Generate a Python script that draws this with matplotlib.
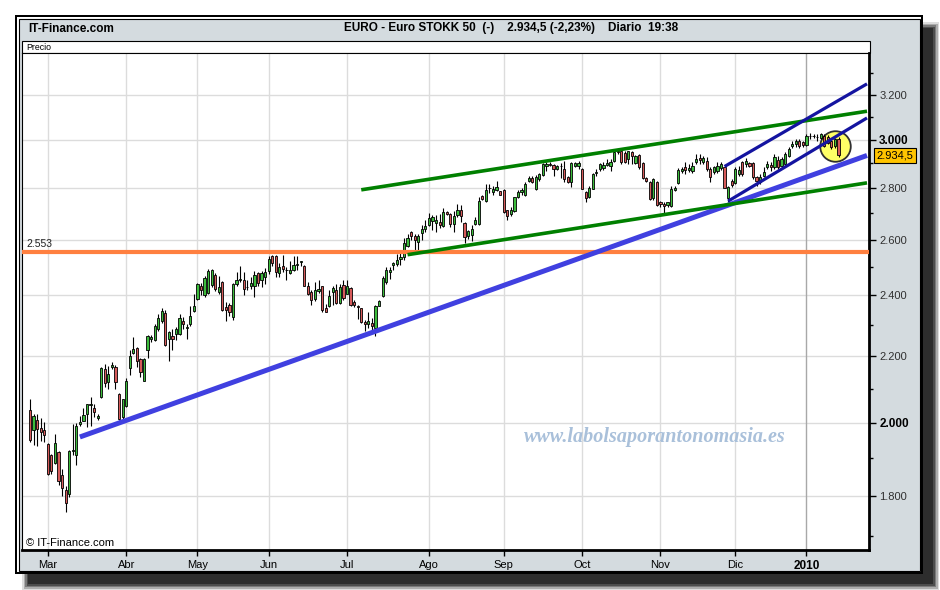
import numpy as np
import pandas as pd
import matplotlib
matplotlib.use('Agg')
import matplotlib.pyplot as plt
from matplotlib import font_manager
from matplotlib.patches import Rectangle
from matplotlib.ticker import NullFormatter

# Euro Stoxx 50, velas diarias 23-feb-2009 .. 15-ene-2010
open_ = [2036, 1978, 2006, 1985, 1980, 1939, 1908, 1887, 1916, 1856,
         1816, 1804, 1920, 1910, 1995, 2004, 2024, 2050, 2043, 2013,
         2076, 2158, 2121, 2165, 2167, 2083, 2016, 2049, 2162, 2211,
         2225, 2190, 2123, 2219, 2253, 2250, 2286, 2314, 2340, 2255,
         2263, 2270, 2272, 2315, 2290, 2304, 2347, 2389, 2434, 2400,
         2408, 2437, 2471, 2411, 2446, 2360, 2368, 2326, 2440, 2455,
         2452, 2428, 2434, 2434, 2477, 2455, 2463, 2484, 2538, 2538,
         2477, 2503, 2489, 2477, 2490, 2508, 2517, 2503, 2431, 2411,
         2389, 2414, 2431, 2356, 2363, 2411, 2420, 2374, 2437, 2406,
         2426, 2377, 2363, 2356, 2309, 2303, 2308, 2291, 2365, 2397,
         2447, 2480, 2506, 2512, 2530, 2536, 2575, 2629, 2615, 2591,
         2625, 2639, 2654, 2670, 2662, 2666, 2650, 2704, 2695, 2658,
         2692, 2713, 2663, 2612, 2616, 2657, 2657, 2766, 2747, 2798,
         2782, 2791, 2786, 2791, 2711, 2697, 2710, 2763, 2782, 2771,
         2829, 2838, 2795, 2836, 2852, 2888, 2898, 2894, 2877, 2888,
         2877, 2842, 2825, 2891, 2888, 2877, 2784, 2762, 2797, 2860,
         2877, 2880, 2894, 2888, 2911, 2950, 2953, 2943, 2918, 2946,
         2901, 2935, 2901, 2838, 2825, 2758, 2825, 2743, 2736, 2730,
         2727, 2792, 2819, 2867, 2884, 2873, 2867, 2904, 2921, 2904,
         2908, 2877, 2863, 2870, 2880, 2884, 2759, 2828, 2818, 2856,
         2904, 2897, 2900, 2900, 2843, 2822, 2849, 2884, 2893, 2884,
         2914, 2891, 2897, 2932, 2971, 2982, 2993, 2989, 2979, 3015,
         3017, 3013, 3007, 3017, 3012, 2995, 2972, 3005]
high = [2068, 2026, 2026, 2013, 2001, 1943, 1911, 1966, 1919, 1870,
        1827, 1922, 1995, 1999, 2020, 2042, 2055, 2075, 2055, 2026,
        2167, 2175, 2170, 2180, 2172, 2087, 2070, 2133, 2218, 2260,
        2228, 2195, 2195, 2268, 2268, 2305, 2337, 2358, 2349, 2281,
        2287, 2292, 2337, 2326, 2302, 2365, 2406, 2443, 2443, 2469,
        2492, 2492, 2477, 2466, 2449, 2377, 2374, 2443, 2480, 2503,
        2480, 2452, 2463, 2486, 2483, 2486, 2497, 2540, 2542, 2542,
        2515, 2542, 2500, 2521, 2538, 2538, 2521, 2506, 2446, 2417,
        2446, 2454, 2434, 2371, 2417, 2434, 2440, 2440, 2454, 2454,
        2429, 2383, 2366, 2358, 2317, 2345, 2322, 2367, 2385, 2467,
        2498, 2500, 2518, 2548, 2554, 2607, 2620, 2632, 2622, 2622,
        2654, 2672, 2700, 2692, 2692, 2695, 2720, 2710, 2700, 2710,
        2734, 2730, 2667, 2637, 2654, 2685, 2762, 2770, 2815, 2815,
        2808, 2828, 2788, 2795, 2713, 2723, 2765, 2791, 2801, 2822,
        2849, 2846, 2852, 2860, 2901, 2904, 2904, 2897, 2894, 2901,
        2911, 2846, 2907, 2907, 2911, 2880, 2788, 2808, 2860, 2877,
        2901, 2904, 2918, 2918, 2953, 2957, 2953, 2950, 2953, 2953,
        2935, 2939, 2904, 2842, 2829, 2838, 2829, 2749, 2743, 2745,
        2808, 2808, 2880, 2884, 2904, 2897, 2904, 2938, 2938, 2931,
        2928, 2884, 2887, 2904, 2904, 2887, 2808, 2835, 2884, 2887,
        2911, 2921, 2904, 2904, 2849, 2856, 2884, 2911, 2904, 2938,
        2931, 2925, 2946, 2970, 2993, 3003, 3003, 2993, 3024, 3027,
        3024, 3024, 3031, 3024, 3020, 3000, 3008, 3012]
low = [1944, 1937, 1935, 1948, 1945, 1854, 1857, 1885, 1828, 1801,
       1760, 1798, 1910, 1883, 1990, 2003, 1988, 1990, 2016, 2006,
       2073, 2105, 2100, 2160, 2100, 2008, 2011, 2045, 2142, 2205,
       2165, 2136, 2122, 2194, 2245, 2247, 2280, 2306, 2232, 2185,
       2220, 2250, 2267, 2287, 2255, 2296, 2345, 2383, 2400, 2394,
       2403, 2429, 2414, 2403, 2347, 2314, 2329, 2317, 2434, 2446,
       2400, 2420, 2423, 2394, 2434, 2429, 2440, 2475, 2503, 2463,
       2463, 2480, 2455, 2475, 2486, 2489, 2503, 2431, 2400, 2366,
       2380, 2408, 2345, 2342, 2360, 2366, 2371, 2371, 2383, 2403,
       2363, 2360, 2320, 2306, 2280, 2291, 2285, 2263, 2363, 2395,
       2441, 2458, 2488, 2502, 2506, 2524, 2573, 2597, 2561, 2563,
       2600, 2629, 2650, 2636, 2630, 2642, 2647, 2692, 2647, 2630,
       2685, 2668, 2588, 2603, 2595, 2654, 2654, 2751, 2743, 2778,
       2770, 2786, 2770, 2701, 2675, 2691, 2706, 2760, 2772, 2769,
       2822, 2819, 2791, 2829, 2849, 2869, 2888, 2849, 2874, 2840,
       2822, 2819, 2805, 2884, 2877, 2795, 2745, 2758, 2795, 2846,
       2870, 2874, 2888, 2870, 2907, 2939, 2897, 2901, 2897, 2897,
       2897, 2877, 2836, 2822, 2752, 2752, 2727, 2724, 2697, 2724,
       2724, 2788, 2815, 2862, 2856, 2863, 2859, 2897, 2897, 2897,
       2870, 2822, 2856, 2859, 2873, 2800, 2742, 2805, 2815, 2849,
       2849, 2884, 2884, 2836, 2808, 2815, 2843, 2877, 2870, 2877,
       2877, 2884, 2891, 2925, 2965, 2968, 2965, 2968, 2975, 3003,
       3007, 2993, 3003, 2968, 2980, 2960, 2965, 2925]
close = [1950, 2018, 1982, 1973, 1964, 1859, 1865, 1941, 1840, 1822,
         1781, 1919, 1924, 1991, 2002, 2022, 2053, 2055, 2030, 2020,
         2163, 2116, 2143, 2172, 2119, 2011, 2068, 2123, 2200, 2222,
         2185, 2150, 2190, 2265, 2260, 2298, 2325, 2347, 2235, 2278,
         2255, 2288, 2322, 2302, 2292, 2331, 2362, 2440, 2417, 2461,
         2486, 2489, 2423, 2429, 2351, 2349, 2343, 2440, 2454, 2458,
         2423, 2430, 2443, 2471, 2443, 2477, 2480, 2527, 2515, 2483,
         2500, 2492, 2489, 2490, 2507, 2510, 2520, 2434, 2406, 2383,
         2417, 2423, 2351, 2345, 2397, 2426, 2374, 2429, 2392, 2434,
         2366, 2366, 2360, 2309, 2302, 2312, 2297, 2364, 2381, 2461,
         2488, 2488, 2514, 2526, 2536, 2588, 2607, 2612, 2597, 2612,
         2641, 2650, 2682, 2685, 2675, 2654, 2704, 2698, 2658, 2688,
         2713, 2690, 2608, 2632, 2641, 2672, 2747, 2757, 2791, 2800,
         2795, 2804, 2773, 2705, 2691, 2713, 2763, 2782, 2791, 2815,
         2838, 2825, 2842, 2856, 2897, 2897, 2892, 2877, 2891, 2890,
         2836, 2822, 2901, 2901, 2901, 2797, 2758, 2801, 2856, 2864,
         2897, 2894, 2901, 2907, 2946, 2946, 2904, 2904, 2950, 2932,
         2929, 2884, 2838, 2829, 2755, 2836, 2730, 2736, 2727, 2743,
         2797, 2801, 2874, 2877, 2873, 2880, 2890, 2918, 2914, 2921,
         2877, 2843, 2884, 2887, 2897, 2801, 2804, 2811, 2877, 2873,
         2856, 2911, 2890, 2843, 2829, 2843, 2863, 2897, 2884, 2925,
         2884, 2918, 2939, 2960, 2982, 2993, 2971, 2979, 3017, 3017,
         3015, 3010, 3024, 2975, 2985, 2968, 3001, 2934.5]

holidays = ['2009-04-10', '2009-04-13', '2009-05-01', '2009-12-24',
            '2009-12-25', '2009-12-31', '2010-01-01']
month_names = ['Ene', 'Feb', 'Mar', 'Abr', 'May', 'Jun',
               'Jul', 'Ago', 'Sep', 'Oct', 'Nov', 'Dic']

# lineas dibujadas a mano: (fecha, nivel)
blue_line = [('2009-03-13', 1959), ('2010-01-27', 2933)]
green_up = [('2009-07-07', 2792), ('2010-01-27', 3125)]
green_low = [('2009-07-24', 2544), ('2010-01-27', 2820)]
navy_up = [('2009-11-26', 2887), ('2010-01-27', 3250)]
navy_low = [('2009-11-27', 2747), ('2010-01-27', 3095)]
support = 2553

ytick_vals = [1800, 2000, 2200, 2400, 2600, 2800, 3000, 3200]
ytick_labels = ['1.800', '2.000', '2.200', '2.400', '2.600', '2.800', '3.000', '3.200']
ytick_minor = [1700, 1900, 2100, 2300, 2500, 2700, 2900, 3100, 3300]
last_label = '2.934,5'

names = {f.name for f in font_manager.fontManager.ttflist}
narrow = 'Liberation Sans Narrow' if 'Liberation Sans Narrow' in names else 'Liberation Sans'
title_size = 9.5 if narrow == 'Liberation Sans Narrow' else 8.5
plt.rcParams['font.family'] = ['Liberation Sans', 'DejaVu Sans']

dates = pd.bdate_range('2009-02-23', '2010-01-29')
dates = dates[~dates.isin(pd.to_datetime(holidays))]

o = np.array(open_, dtype=float)
h = np.array(high, dtype=float)
l = np.array(low, dtype=float)
c = np.array(close, dtype=float)
x = np.arange(len(c))


def pos(d):
    return dates.get_loc(pd.Timestamp(d))


fig = plt.figure(figsize=(9.4, 5.9), dpi=100)

# marco de la ventana, en pixeles
bg = fig.add_axes([0, 0, 1, 1])
bg.set_xlim(0, 940)
bg.set_ylim(590, 0)
bg.axis('off')
for i, a in enumerate([0.15, 0.25, 0.35, 0.5, 0.7]):
    bg.add_patch(Rectangle((22 + i * 1.5, 22 + i * 1.5), 917 - i * 3, 568 - i * 3,
                           fc='#202020', ec='none', alpha=a))
bg.add_patch(Rectangle((15, 15), 908, 559, fc='black', ec='none'))
bg.add_patch(Rectangle((17, 17), 904, 555, fc='white', ec='none'))
bg.add_patch(Rectangle((19, 19), 900.5, 551.5, fc='#d4dbdf', ec='black', lw=0.8))
bg.add_patch(Rectangle((22, 41), 847.5, 12, fc='white', ec='black', lw=0.8))

bg.text(28, 28.5, 'IT-Finance.com', family=narrow, fontsize=title_size, weight='bold',
        va='center', ha='left')
bg.text(511, 28.5, 'EURO - Euro STOKK 50  (-)    2.934,5 (-2,23%)    Diario  19:38',
        family=narrow, fontsize=title_size, weight='bold', va='center', ha='center')
bg.text(26, 47, 'Precio', fontsize=6.3, va='center', ha='left')

ax = fig.add_axes([22 / 940, 40 / 590, 847.5 / 940, 497 / 590])
ax.set_yscale('log')
ax.set_xlim(-2.25, 235.7)
ax.set_ylim(1666, 3397)

# rejilla
for v in ytick_vals:
    ax.axhline(v, color='#dcdcdc', lw=1, zorder=0)
month_pos = [i for i in range(1, len(dates)) if dates[i].month != dates[i - 1].month]
month_lab = [month_names[dates[i].month - 1] if dates[i].month != 1 else str(dates[i].year)
             for i in month_pos]
for p, lab in zip(month_pos, month_lab):
    ax.axvline(p, color='#a8a8a8' if lab.isdigit() else '#dcdcdc', lw=1, zorder=0)

# circulo sobre las ultimas velas
cx = x[-3:].mean()
cy = np.sqrt(h[-4:].max() * l[-4:].min())
ax.plot(cx, cy, 'o', ms=22, mfc='#ffff66', mec='#303030', mew=1.3, zorder=1.5)

# velas
up = c >= o
ax.vlines(x, l, h, color='black', lw=0.8, zorder=3)
ax.bar(x, np.abs(c - o), bottom=np.minimum(o, c), width=0.62,
       color=np.where(up, '#3cbc3c', '#d65a5a'), edgecolor='black', lw=0.6, zorder=4)

# soporte y tendencias
ax.axhline(support, color='#ff8040', lw=3, zorder=5)
ax.text(0.005, support * 1.004, '2.553', transform=ax.get_yaxis_transform(),
        fontsize=7.5, va='bottom', ha='left', color='#202020')
for pts, col, lw in [(blue_line, '#4040e0', 3.6), (green_up, '#008000', 2.6),
                     (green_low, '#008000', 2.6), (navy_up, '#1414a0', 2.3),
                     (navy_low, '#1414a0', 2.3)]:
    ax.plot([pos(d) for d, _ in pts], [v for _, v in pts], color=col, lw=lw,
            solid_capstyle='butt', zorder=6)

ax.text(0.005, 0.004, '\u00a9 IT-Finance.com', transform=ax.transAxes, fontsize=8,
        va='bottom', ha='left')
ax.text(0.747, 0.227, 'www.labolsaporantonomasia.es', transform=ax.transAxes,
        family=['Liberation Serif', 'DejaVu Serif'], style='italic', weight='bold',
        fontsize=14.5, color='#a9c0da', ha='center', va='center', zorder=2)

# ejes
ax.yaxis.tick_right()
ax.set_yticks(ytick_vals)
ax.set_yticklabels(ytick_labels)
ax.set_yticks(ytick_minor, minor=True)
ax.yaxis.set_minor_formatter(NullFormatter())
ax.tick_params(axis='y', which='major', length=5, width=1, labelsize=8, pad=2,
               labelcolor='#303030')
ax.tick_params(axis='y', which='minor', length=3, width=1)
for t in ax.get_yticklabels():
    if t.get_text() in ('2.000', '3.000'):
        t.set_fontweight('bold')
        t.set_color('black')
        t.set_fontsize(8.5)

ax.set_xticks(month_pos)
ax.set_xticklabels(month_lab)
ax.tick_params(axis='x', length=4, width=1, labelsize=8, pad=3)
for t in ax.get_xticklabels():
    if t.get_text().isdigit():
        t.set_fontweight('bold')
        t.set_fontsize(8.5)

ax.spines['left'].set_linewidth(0.8)
ax.spines['top'].set_linewidth(0.8)
ax.spines['right'].set_linewidth(2)
ax.spines['bottom'].set_linewidth(2)

# etiqueta del ultimo precio
bg.text(895, 155.5, last_label, fontsize=8, ha='center', va='center',
        bbox=dict(boxstyle='square,pad=0.25', fc='#ffc400', ec='black', lw=0.8))

fig.savefig('out.png', dpi=100)
